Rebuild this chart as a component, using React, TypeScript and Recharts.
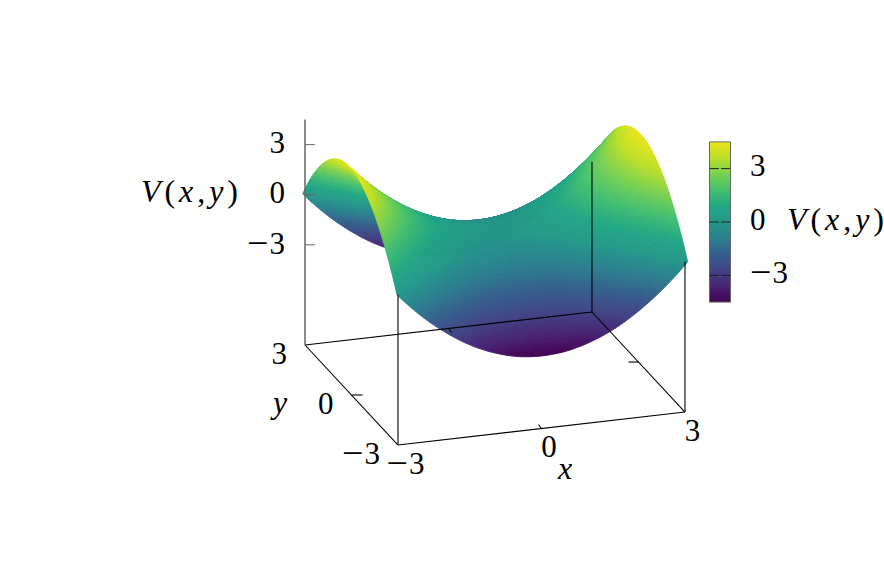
import { ReferenceArea, Scatter, ScatterChart, XAxis, YAxis } from "recharts";

const WIDTH = 884;
const HEIGHT = 565;

// values, rows run from y = 3 down to y = -3
const xValues = [-3, -2.5, -2, -1.5, -1, -0.5, 0, 0.5, 1, 1.5, 2, 2.5, 3];
const yValues = [3, 2.5, 2, 1.5, 1, 0.5, 0, -0.5, -1, -1.5, -2, -2.5, -3];
const vRows = [
  [0, -1.38, -2.5, -3.38, -4, -4.38, -4.5, -4.38, -4, -3.38, -2.5, -1.38, 0],
  [1.38, 0, -1.13, -2, -2.63, -3, -3.13, -3, -2.63, -2, -1.13, 0, 1.38],
  [2.5, 1.13, 0, -0.88, -1.5, -1.88, -2, -1.88, -1.5, -0.88, 0, 1.13, 2.5],
  [3.38, 2, 0.88, 0, -0.63, -1, -1.13, -1, -0.63, 0, 0.88, 2, 3.38],
  [4, 2.63, 1.5, 0.63, 0, -0.38, -0.5, -0.38, 0, 0.63, 1.5, 2.63, 4],
  [4.38, 3, 1.88, 1, 0.38, 0, -0.13, 0, 0.38, 1, 1.88, 3, 4.38],
  [4.5, 3.13, 2, 1.13, 0.5, 0.13, 0, 0.13, 0.5, 1.13, 2, 3.13, 4.5],
  [4.38, 3, 1.88, 1, 0.38, 0, -0.13, 0, 0.38, 1, 1.88, 3, 4.38],
  [4, 2.63, 1.5, 0.63, 0, -0.38, -0.5, -0.38, 0, 0.63, 1.5, 2.63, 4],
  [3.38, 2, 0.88, 0, -0.63, -1, -1.13, -1, -0.63, 0, 0.88, 2, 3.38],
  [2.5, 1.13, 0, -0.88, -1.5, -1.88, -2, -1.88, -1.5, -0.88, 0, 1.13, 2.5],
  [1.38, 0, -1.13, -2, -2.63, -3, -3.13, -3, -2.63, -2, -1.13, 0, 1.38],
  [0, -1.38, -2.5, -3.38, -4, -4.38, -4.5, -4.38, -4, -3.38, -2.5, -1.38, 0],
];

const xTicks = [-3, 0, 3];
const yTicks = [-3, 0, 3];
const vTicks = [-3, 0, 3];
const cbTicks = [-3, 0, 3];
const V_MIN = -4.5;
const V_MAX = 4.5;
const Z_FLOOR = -9;

const viridis = ["#440154", "#482475", "#414487", "#355f8d", "#2b7f8e", "#24988a", "#22a884", "#44bf70", "#7ad151", "#bddf26", "#ece51b"];

const FONT = "'Liberation Serif', serif";
const SUBDIV = 8;

// gnuplot-like orthographic view, in pixels
const boxPoint = (x: number, y: number, z: number) => ({
  px: 305 + (x + 3) * 47.83 + (3 - y) * 15.5,
  py: 345 - (x + 3) * 5.5 + (3 - y) * 16.67 - (z - Z_FLOOR) * 16.7,
});
const surfPoint = (x: number, y: number, v: number) => ({
  px: 302.7 + (x + 3) * 48.45 + (3 - y) * 15.72,
  py: 194 - (x + 3) * 5.5 + (3 - y) * 16.83 - v * 17.2,
});
const cbY = (v: number) => 222 - 17.8 * v;

function hexRgb(h: string) {
  return [1, 3, 5].map((i) => parseInt(h.slice(i, i + 2), 16));
}
function colorOf(v: number) {
  const t = Math.min(1, Math.max(0, (v - V_MIN) / (V_MAX - V_MIN))) * (viridis.length - 1);
  const i = Math.min(viridis.length - 2, Math.floor(t));
  const a = hexRgb(viridis[i]);
  const b = hexRgb(viridis[i + 1]);
  const c = a.map((n, k) => Math.round(n + (b[k] - n) * (t - i)));
  return `rgb(${c[0]},${c[1]},${c[2]})`;
}

// cubic through the four nearest knots, ends continued by extrapolation
function smooth(get: (i: number) => number, n: number, i: number, t: number) {
  const at = (k: number) => {
    if (k < 0) return 3 * get(0) - 3 * get(1) + get(2);
    if (k >= n) return 3 * get(n - 1) - 3 * get(n - 2) + get(n - 3);
    return get(k);
  };
  const [p0, p1, p2, p3] = [at(i - 1), at(i), at(i + 1), at(i + 2)];
  return 0.5 * (2 * p1 + (p2 - p0) * t + (2 * p0 - 5 * p1 + 4 * p2 - p3) * t * t + (3 * p1 - p0 - 3 * p2 + p3) * t * t * t);
}
function surfaceHeight(r: number, c: number, w: number, u: number) {
  return smooth((row) => smooth((col) => vRows[row][col], xValues.length, c, u), yValues.length, r, w);
}

type Cell = { px: number; py: number; r: number; c: number };

// far cells first: high x and high y sit at the back
const cells: Cell[] = [];
for (let c = xValues.length - 2; c >= 0; c--) {
  for (let r = 0; r < yValues.length - 1; r++) {
    const p = surfPoint(xValues[c], yValues[r], vRows[r][c]);
    cells.push({ ...p, r, c });
  }
}

// one grid cell, shaded in small flat facets
function CellShape(props: any) {
  const { cx, cy, payload } = props;
  const { r, c, px, py } = payload as Cell;
  const at = (u: number, w: number) => {
    const v = surfaceHeight(r, c, w, u);
    const x = xValues[c] + (xValues[c + 1] - xValues[c]) * u;
    const y = yValues[r] + (yValues[r + 1] - yValues[r]) * w;
    const p = surfPoint(x, y, v);
    return { sx: cx + p.px - px, sy: cy + p.py - py, v };
  };
  const polys = [];
  for (let i = SUBDIV - 1; i >= 0; i--) {
    for (let j = 0; j < SUBDIV; j++) {
      const q = [
        at(i / SUBDIV, j / SUBDIV),
        at((i + 1) / SUBDIV, j / SUBDIV),
        at((i + 1) / SUBDIV, (j + 1) / SUBDIV),
        at(i / SUBDIV, (j + 1) / SUBDIV),
      ];
      const fill = colorOf((q[0].v + q[1].v + q[2].v + q[3].v) / 4);
      polys.push(
        <polygon
          key={`${i}-${j}`}
          points={q.map((p) => `${p.sx.toFixed(2)},${p.sy.toFixed(2)}`).join(" ")}
          fill={fill}
          stroke={fill}
          strokeWidth={0.8}
        />
      );
    }
  }
  return <g>{polys}</g>;
}

type Lab = { px: number; py: number; tick?: number; text?: string; anchor: string; math?: boolean };

const labels: Lab[] = [
  ...vTicks.map((t) => ({ px: 285, py: boxPoint(-3, 3, t).py, tick: t, anchor: "end" })),
  ...yTicks.map((t) => {
    const b = boxPoint(-3, t, Z_FLOOR);
    return { px: b.px - 18, py: b.py + 10, tick: t, anchor: "end" };
  }),
  ...xTicks.map((t) => {
    const b = boxPoint(t, -3, Z_FLOOR);
    return { px: b.px + 7.5, py: b.py + 20, tick: t, anchor: "middle" };
  }),
  ...cbTicks.map((t) => ({ px: 750, py: cbY(t) - 1, tick: t, anchor: "start" })),
  { px: 280, py: 404, text: "y", anchor: "middle" },
  { px: 565, py: 470, text: "x", anchor: "middle" },
  { px: 141, py: 193, anchor: "start", math: true },
  { px: 787, py: 221, anchor: "start", math: true },
];

function LabelShape(props: any) {
  const { cx, cy, payload } = props;
  const l = payload as Lab;
  const base = { x: cx, y: cy - 2, fontFamily: FONT, fill: "#000", dominantBaseline: "central" as const };
  if (l.math) {
    return (
      <text {...base} fontSize={32} textAnchor="start" textLength={97} lengthAdjust="spacing">
        <tspan fontStyle="italic">V</tspan>(<tspan fontStyle="italic">x</tspan>,<tspan fontStyle="italic">y</tspan>)
      </text>
    );
  }
  if (l.text) {
    return (
      <text {...base} fontSize={32} textAnchor="middle" fontStyle="italic">
        {l.text}
      </text>
    );
  }
  const t = l.tick as number;
  return (
    <text {...base} fontSize={31} textAnchor={l.anchor as any}>
      {t < 0 ? (
        <>
          <tspan fontSize={38}>{"\u2212"}</tspan>
          <tspan dx={1}>{-t}</tspan>
        </>
      ) : (
        t
      )}
    </text>
  );
}

const AXIS_GREY = "#666666";
type Pt = { px: number; py: number };

// a stroke as a two point scatter series, so it paints over the surface
const strokeSeries = (key: string, a: Pt, b: Pt, color = "#000", width = 1.1) => (
  <Scatter
    key={key}
    data={[a, b]}
    line={{ stroke: color, strokeWidth: width }}
    shape={() => <g />}
    isAnimationActive={false}
  />
);

export default function App() {
  const bl = boxPoint(-3, 3, Z_FLOOR);
  const fl = boxPoint(-3, -3, Z_FLOOR);
  const fr = boxPoint(3, -3, Z_FLOOR);
  const br = boxPoint(3, 3, Z_FLOOR);
  const xTick0 = xTicks[1];
  const yTick0 = yTicks[1];
  const xf = boxPoint(xTick0, -3, Z_FLOOR);
  const xb = boxPoint(xTick0, 3, Z_FLOOR);
  const yl = boxPoint(-3, yTick0, Z_FLOOR);
  const yr = boxPoint(3, yTick0, Z_FLOOR);

  return (
    <div style={{ position: "absolute", left: 0, top: 0, width: WIDTH, height: HEIGHT }}>
      <ScatterChart width={WIDTH} height={HEIGHT} margin={{ top: 0, right: 0, bottom: 0, left: 0 }}>
        <defs>
          <linearGradient id="cbGrad" x1="0" y1="1" x2="0" y2="0">
            {viridis.map((c, i) => (
              <stop key={c} offset={i / (viridis.length - 1)} stopColor={c} />
            ))}
          </linearGradient>
        </defs>
        <XAxis type="number" dataKey="px" domain={[0, WIDTH]} hide allowDataOverflow />
        <YAxis type="number" dataKey="py" domain={[0, HEIGHT]} reversed hide allowDataOverflow />
        <ReferenceArea
          x1={709.5}
          x2={730.5}
          y1={cbY(V_MAX)}
          y2={cbY(V_MIN)}
          fill="url(#cbGrad)"
          fillOpacity={1}
          stroke={AXIS_GREY}
          strokeWidth={1}
          ifOverflow="visible"
        />
        <Scatter data={cells} shape={CellShape} isAnimationActive={false} />
        {strokeSeries("e1", bl, fl)}
        {strokeSeries("e2", fl, fr)}
        {strokeSeries("e3", fr, br)}
        {strokeSeries("e4", br, bl)}
        {strokeSeries("v1", fl, boxPoint(-3, -3, 0))}
        {strokeSeries("v2", fr, boxPoint(3, -3, 0))}
        {strokeSeries("v3", br, boxPoint(3, 3, 0))}
        {strokeSeries("tx1", xf, { px: xf.px - 3, py: xf.py - 4 })}
        {strokeSeries("tx2", xb, { px: xb.px + 3, py: xb.py + 4 })}
        {strokeSeries("ty1", yl, { px: yl.px + 11, py: yl.py })}
        {strokeSeries("ty2", yr, { px: yr.px - 10, py: yr.py })}
        {strokeSeries("z", bl, boxPoint(-3, 3, V_MAX), AXIS_GREY, 1.5)}
        {vTicks.map((t) => {
          const p = boxPoint(-3, 3, t);
          return strokeSeries(`zt${t}`, p, { px: p.px + 10, py: p.py }, AXIS_GREY, 1);
        })}
        {cbTicks.flatMap((t) => [
          strokeSeries(`cl${t}`, { px: 709.5, py: cbY(t) }, { px: 719, py: cbY(t) }, "#222", 1),
          strokeSeries(`cr${t}`, { px: 721, py: cbY(t) }, { px: 730.5, py: cbY(t) }, "#222", 1),
        ])}
        <Scatter data={labels} shape={LabelShape} isAnimationActive={false} />
      </ScatterChart>
    </div>
  );
}
